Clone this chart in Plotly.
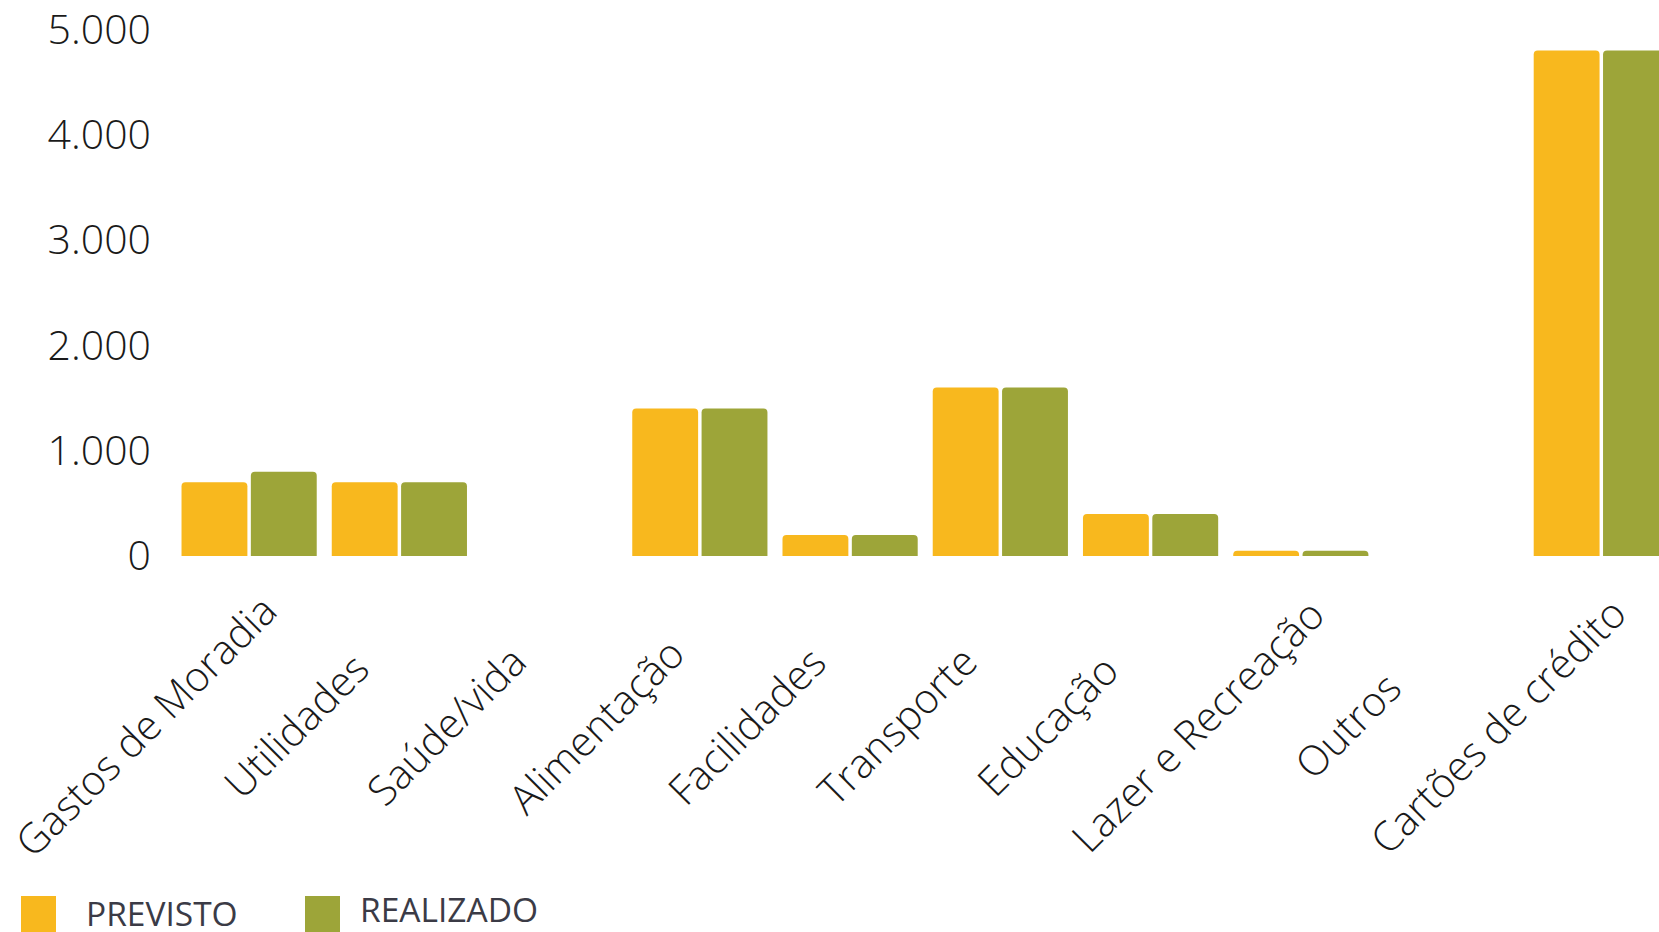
import plotly.graph_objects as go

categorias = ["Gastos de Moradia", "Utilidades", "Saúde/vida", "Alimentação", "Facilidades",
              "Transporte", "Educação", "Lazer e Recreação", "Outros", "Cartões de crédito"]
previsto = [700, 700, 0, 1400, 200, 1600, 400, 50, 0, 4800]
realizado = [800, 700, 0, 1400, 200, 1600, 400, 50, 0, 4800]
series_nomes = ["PREVISTO", "REALIZADO"]
cores = ["#F8B81E", "#9DA539"]

W, H = 1659, 932
ML, MR, MT, MB = 174, 0, 29, 376
PW, PH = W - ML - MR, H - MT - MB

def px_x(p):
    return (p - ML) / PW

def px_y(p):
    return (H - MB - p) / PH

fig = go.Figure()
for nome, vals, cor in zip(series_nomes, [previsto, realizado], cores):
    fig.add_trace(go.Bar(x=list(range(len(categorias))), y=vals, name=nome,
                         marker=dict(color=cor, line=dict(width=0)), showlegend=False))

# rotated category labels, centred below each category
for i, cat in enumerate(categorias):
    fig.add_annotation(xref="x", yref="paper", x=i, y=px_y(725), xshift=-104,
                       xanchor="center", yanchor="middle", textangle=-45,
                       showarrow=False, text=cat,
                       font=dict(family="Open Sans", size=41, weight=300, color="#1a1a1a"))

# legend drawn as shapes + text
leg = [(21, 56, 84, 913), (305, 340, 358, 909)]
for (x0, x1, tx, ty), nome, cor in zip(leg, series_nomes, cores):
    fig.add_shape(type="rect", xref="paper", yref="paper",
                  x0=px_x(x0), x1=px_x(x1), y0=px_y(896), y1=px_y(940),
                  fillcolor=cor, line=dict(width=0))
    fig.add_annotation(xref="paper", yref="paper", x=px_x(tx), y=px_y(ty),
                       xanchor="left", yanchor="middle", showarrow=False, text=nome,
                       font=dict(family="Open Sans", size=33.5, color="#3b3b46"))

fig.update_layout(
    width=W, height=H, autosize=False,
    margin=dict(l=ML, r=MR, t=MT, b=MB, pad=0),
    paper_bgcolor="white", plot_bgcolor="white",
    barmode="group", bargap=0.077, bargroupgap=0.05, barcornerradius=4,
    separators=",.",
    font=dict(family="Open Sans", color="#1a1a1a"),
    xaxis=dict(range=[-0.5, 9.384], showticklabels=False, showgrid=False, zeroline=False,
               showline=False, ticks="", automargin=False, fixedrange=True),
    yaxis=dict(range=[0, 5005], tickvals=[0, 1000, 2000, 3000, 4000, 5000], tickformat=",.0f",
               showgrid=False, zeroline=False, showline=False, ticks="", ticklabelstandoff=22,
               ticklabeloverflow="allow",
               tickfont=dict(size=41, weight=300, color="#1a1a1a"), automargin=False),
)
fig.write_html("out.html", config={"responsive": False})
